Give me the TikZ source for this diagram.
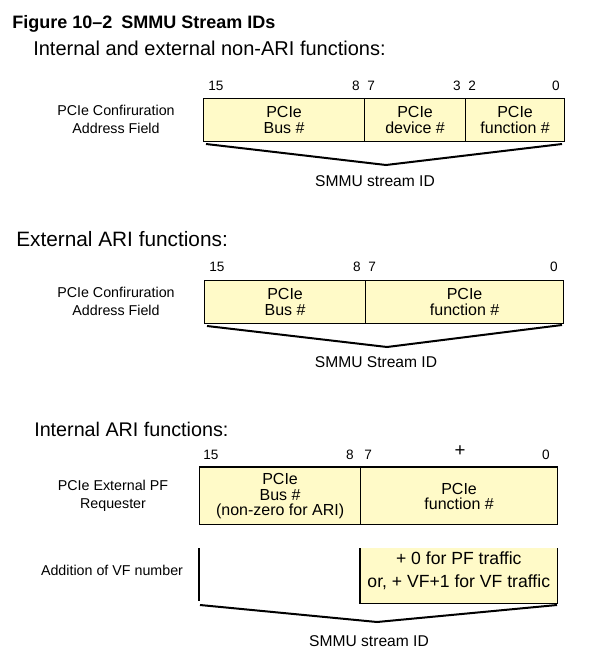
\documentclass[tikz,border=0pt]{standalone}
\usepackage{fontspec}
\setmainfont{Liberation Sans}
\definecolor{fieldyellow}{RGB}{255,250,200}
\begin{document}
\begin{tikzpicture}[x=0.75pt,y=-0.75pt,
  fld/.style 2 args={draw=black, line width=0.9pt, fill=fieldyellow, anchor=north west,
    inner sep=0pt, align=center, minimum width=#1*0.75pt, minimum height=#2*0.75pt,
    font=\fontsize{12}{12.5}\selectfont},
  heading/.style={anchor=base west, inner sep=0pt},
  titletext/.style={anchor=base west, inner sep=0pt, font=\fontsize{13.5}{15}\selectfont\bfseries},
  bitl/.style={anchor=base west, inner sep=0pt, font=\fontsize{10.2}{12}\selectfont},
  bitr/.style={anchor=base east, inner sep=0pt, font=\fontsize{10.2}{12}\selectfont},
  side/.style={align=center, inner sep=0pt, font=\fontsize{10.7}{13.5}\selectfont},
  result/.style={inner sep=0pt, font=\fontsize{11.7}{14}\selectfont},
  brace/.style={line width=1.5pt, line join=miter},
]
\useasboundingbox (0,0) rectangle (594,671);

% title
\node[titletext] (title) at (12,28) {Figure 10--2\hspace{0.5em}SMMU Stream IDs};

% ---------- Section 1 ----------
\node[heading, font=\fontsize{15}{17}\selectfont] (h1) at (33,55) {Internal and external non-ARI functions:};
\node[side] (s1) at (116,119) {PCIe Confiruration\\Address Field};
\node[fld={161}{43}] (a1) at (203,98) {PCIe\\Bus \#};
\node[fld={101}{43}] (a2) at (364,98) {PCIe\\device \#};
\node[fld={99}{43}] (a3) at (465,98) {PCIe\\function \#};
\node[bitl] (n15a) at (208,90) {15};
\node[bitr] (n8a) at (360,90) {8};
\node[bitl] (n7a) at (367,90) {7};
\node[bitr] (n3a) at (461,90) {3};
\node[bitl] (n2a) at (468,90) {2};
\node[bitr] (n0a) at (560,90) {0};
\coordinate (b1l) at (206,144);
\coordinate (b1m) at (386,165);
\coordinate (b1r) at (562,144);
\draw[brace] (b1l) -- (b1m) -- (b1r);
\node[result] (r1) at (375,181) {SMMU stream ID};

% ---------- Section 2 ----------
\node[heading, font=\fontsize{15.6}{17}\selectfont] (h2) at (16,246) {External ARI functions:};
\node[side] (s2) at (116,301) {PCIe Confiruration\\Address Field};
\node[fld={161}{43}] (c1) at (204,280) {PCIe\\Bus \#};
\node[fld={198}{43}] (c2) at (365,280) {PCIe\\function \#};
\node[bitl] (n15b) at (209,271) {15};
\node[bitr] (n8b) at (361,271) {8};
\node[bitl] (n7b) at (368,271) {7};
\node[bitr] (n0b) at (558,271) {0};
\coordinate (b2l) at (207,326);
\coordinate (b2m) at (387,347);
\coordinate (b2r) at (562,325);
\draw[brace] (b2l) -- (b2m) -- (b2r);
\node[result] (r2) at (376,362) {SMMU Stream ID};

% ---------- Section 3 ----------
\node[heading, font=\fontsize{14.8}{17}\selectfont] (h3) at (34,436) {Internal ARI functions:};
\node[side] (s3) at (113,496) {PCIe External PF\\Requester};
\node[fld={161}{57}, font=\fontsize{12}{11.3}\selectfont] (e1) at (199,467) {PCIe\\Bus \#\\(non-zero for ARI)};
\node[fld={197}{57}, font=\fontsize{12}{11.3}\selectfont] (e2) at (360,467) {PCIe\\function \#};
\draw[line width=1.6pt] (e1.north west) -- (e2.north east);
\node[bitl] (n15c) at (203,459) {15};
\node[bitr] (n8c) at (354,459) {8};
\node[bitl] (n7c) at (364,459) {7};
\node[inner sep=0pt, font=\fontsize{14}{14}\selectfont] (plus) at (460,451) {+};
\node[bitr] (n0c) at (550,459) {0};

\node[side] (s4) at (112,570) {Addition of VF number};
\node[fill=fieldyellow, anchor=north west, inner sep=0pt,
      minimum width=197*0.75pt, minimum height=55*0.75pt] (g2) at (360,548) {};
\draw[line width=0.9pt] (g2.north west) -- (g2.south west) -- (g2.south east) -- (g2.north east);
\node[align=center, inner sep=0pt, font=\fontsize{13.2}{17.3}\selectfont] (g2t) at (g2.center) [yshift=4pt] {+ 0 for PF traffic\\or, + VF+1 for VF traffic};
\coordinate (g1top) at (199,548);
\coordinate (g1bot) at (199,601);
\draw[line width=0.9pt] (g1top) -- (g1bot);
\coordinate (b3l) at (200,605);
\coordinate (b3m) at (377,622);
\coordinate (b3r) at (557,605);
\draw[brace] (b3l) -- (b3m) -- (b3r);
\node[result] (r3) at (369,641) {SMMU stream ID};
\end{tikzpicture}
\end{document}
